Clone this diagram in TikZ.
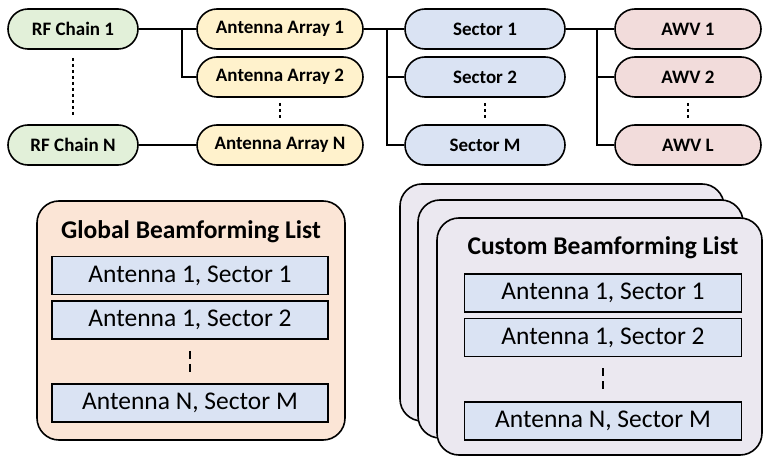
\documentclass[tikz,border=0pt]{standalone}
\usepackage{fontspec}
\setmainfont{Carlito}
\definecolor{cgreen}{HTML}{E2F0D9}
\definecolor{cyellow}{HTML}{FFF2CC}
\definecolor{cblue}{HTML}{DAE3F3}
\definecolor{cpink}{HTML}{F2DCDB}
\definecolor{corange}{HTML}{FBE5D6}
\definecolor{clav}{HTML}{EBE8F0}
\tikzset{
  pill/.style={draw, line width=1.6pt, rounded corners=20pt, minimum height=40pt, inner sep=0pt,
    font=\bfseries\fontsize{19}{21}\selectfont},
  conn/.style={line width=1.6pt},
  dotl/.style={line width=1.8pt, dash pattern=on 3pt off 3pt},
  dashl/.style={line width=1.6pt, dash pattern=on 8pt off 5pt},
  panel/.style={draw, line width=1.6pt, rounded corners=22pt},
  rowbox/.style={draw, fill=cblue, line width=1.5pt, minimum width=276pt, minimum height=38pt, inner sep=0pt,
    font=\fontsize{25.5}{27}\selectfont},
  ttl/.style={font=\bfseries\fontsize{25.5}{27}\selectfont, inner sep=0pt}
}
\begin{document}
\begin{tikzpicture}[x=1pt,y=-1pt]
\useasboundingbox (0,0) rectangle (763,457);
% top row
\node[pill, fill=cgreen, minimum width=130pt] (rf1) at (73,29) {RF Chain 1};
\node[pill, fill=cgreen, minimum width=130pt] (rfN) at (73,145) {RF Chain N};
\node[pill, fill=cyellow, minimum width=166pt] (aa1) at (280,29) {Antenna Array 1};
\node[pill, fill=cyellow, minimum width=166pt] (aa2) at (280,77) {Antenna Array 2};
\node[pill, fill=cyellow, minimum width=166pt] (aaN) at (280,145) {Antenna Array N};
\node[pill, fill=cblue, minimum width=160pt] (s1) at (485,29) {Sector 1};
\node[pill, fill=cblue, minimum width=160pt] (s2) at (485,77) {Sector 2};
\node[pill, fill=cblue, minimum width=160pt] (sM) at (485,145) {Sector M};
\node[pill, fill=cpink, minimum width=146pt] (w1) at (688,29) {AWV 1};
\node[pill, fill=cpink, minimum width=146pt] (w2) at (688,77) {AWV 2};
\node[pill, fill=cpink, minimum width=146pt] (wL) at (688,145) {AWV L};
% connectors
\coordinate (j1) at (182,29);
\coordinate (j2) at (387,29);
\coordinate (j3) at (597,29);
\draw[conn] (rf1.east) -- (aa1.west);
\draw[conn] (j1) |- (aa2.west);
\draw[conn] (rfN.east) -- (aaN.west);
\draw[conn] (aa1.east) -- (s1.west);
\draw[conn] (j2) |- (sM.west);
\draw[conn] (j2 |- s2.west) -- (s2.west);
\draw[conn] (s1.east) -- (w1.west);
\draw[conn] (j3) |- (wL.west);
\draw[conn] (j3 |- w2.west) -- (w2.west);
% dotted
\draw[dotl, shorten <=8pt, shorten >=7pt] (rf1.south) -- (rfN.north);
\draw[dotl, shorten <=5pt, shorten >=5pt] (aa2.south) -- (aaN.north);
\draw[dotl, shorten <=5pt, shorten >=5pt] (s2.south) -- (sM.north);
\draw[dotl, shorten <=5pt, shorten >=5pt] (w2.south) -- (wL.north);
% global list
\draw[panel, fill=corange] (37,201) rectangle (345,440);
\node[ttl] (gt) at (191,232) {Global Beamforming List};
\node[rowbox] (g1) at (190,275.5) {Antenna 1, Sector 1};
\node[rowbox] (g2) at (190,320) {Antenna 1, Sector 2};
\node[rowbox] (gN) at (190,403) {Antenna N, Sector M};
\draw[dashl, shorten <=11pt, shorten >=11pt] (g2.south) -- (gN.north);
% custom list stack
\draw[panel, fill=clav] (400,184) rectangle (724,421);
\draw[panel, fill=clav] (418,200) rectangle (743,438);
\draw[panel, fill=clav] (437,218) rectangle (762,455);
\node[ttl] (ct) at (603,248) {Custom Beamforming List};
\node[rowbox, minimum width=277pt] (c1) at (603,293) {Antenna 1, Sector 1};
\node[rowbox, minimum width=277pt] (c2) at (603,337.5) {Antenna 1, Sector 2};
\node[rowbox, minimum width=277pt] (cN) at (603,421) {Antenna N, Sector M};
\draw[dashl, shorten <=11pt, shorten >=11pt] (c2.south) -- (cN.north);
\end{tikzpicture}
\end{document}
